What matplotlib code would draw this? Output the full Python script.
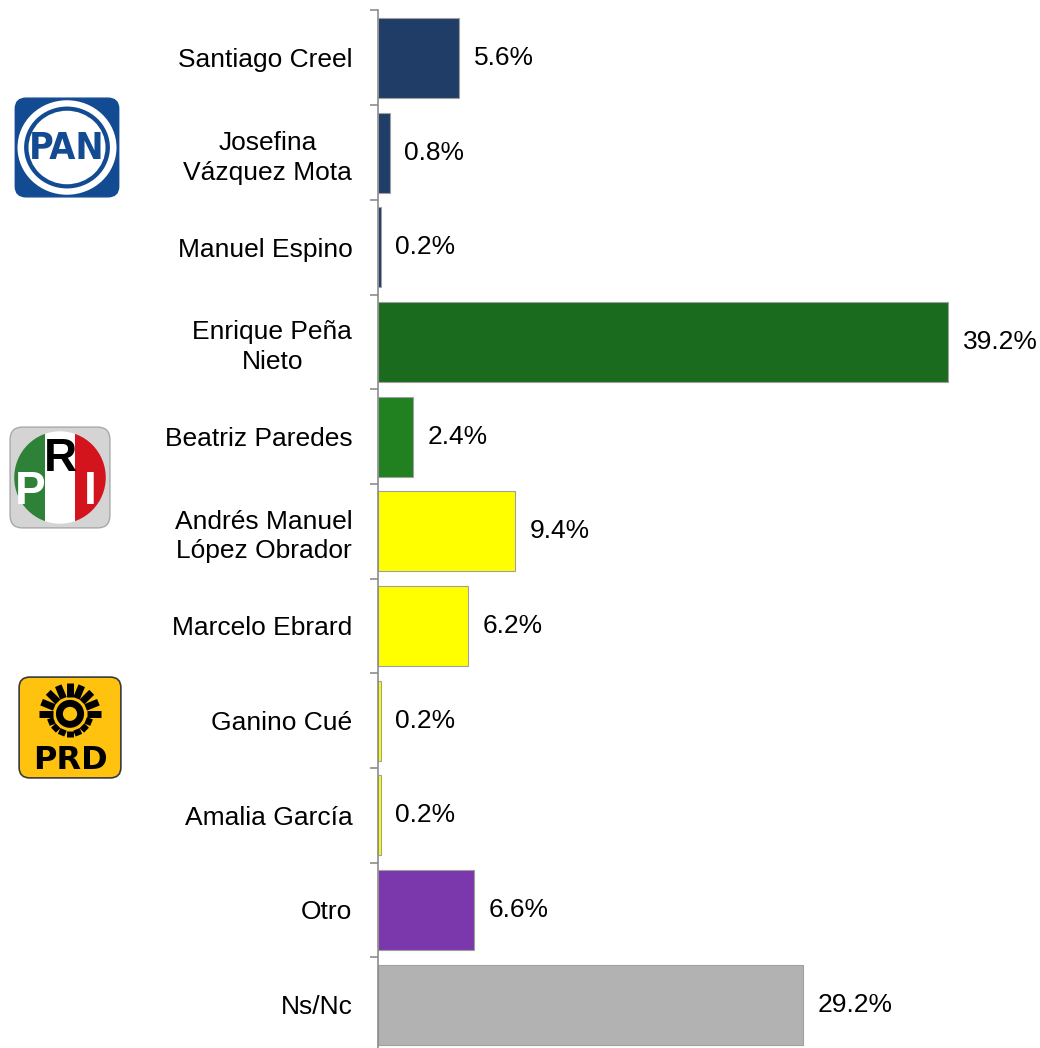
import numpy as np
import matplotlib.pyplot as plt
from matplotlib.patches import FancyBboxPatch, Circle, Rectangle

plt.rcParams['font.family'] = ['Liberation Sans', 'DejaVu Sans']

# datos de la encuesta
candidatos = ['Santiago Creel', 'Josefina\nVázquez Mota', 'Manuel Espino',
              'Enrique Peña\nNieto', 'Beatriz Paredes', 'Andrés Manuel\nLópez Obrador',
              'Marcelo Ebrard', 'Ganino Cué', 'Amalia García', 'Otro', 'Ns/Nc']
porcentajes = [5.6, 0.8, 0.2, 39.2, 2.4, 9.4, 6.2, 0.2, 0.2, 6.6, 29.2]
colores = ['#1F3D66', '#1F3D66', '#1F3D66', '#1A6B1E', '#21801F', '#FFFF00',
           '#FFFF00', '#FFFF00', '#FFFF00', '#7A38AC', '#B2B2B2']

W, H = 1040, 1048
fig = plt.figure(figsize=(W / 100, H / 100), dpi=100)
# el eje se sale un poco por abajo, como en la imagen original
ax = fig.add_axes([378 / W, 1 - 1052 / H, 1 - 378 / W, (1052 - 10.5) / H])

y = np.arange(len(candidatos))
ax.barh(y, porcentajes, height=0.845, color=colores, edgecolor='#A0A0A0', linewidth=0.8)
ax.set_ylim(len(candidatos) - 0.5, -0.5)
ax.set_xlim(0, (W - 378) / 14.54)

for i, v in enumerate(porcentajes):
    ax.annotate(f'{v:.1f}%', (v, i), xytext=(10.5, 0), textcoords='offset points',
                va='center', ha='left', fontsize=19)

ax.set_yticks(y)
ax.set_yticklabels(candidatos, fontsize=19, multialignment='center', linespacing=1.3)
ax.set_yticks(np.arange(-0.5, len(candidatos)), minor=True)
ax.tick_params(axis='y', which='major', length=0, pad=18.5)
ax.tick_params(axis='y', which='minor', length=6, color='#8C8C8C', width=1.2)
ax.set_xticks([])
for s in ['top', 'right', 'bottom']:
    ax.spines[s].set_visible(False)
ax.spines['left'].set_color('#8C8C8C')
ax.spines['left'].set_linewidth(1.2)


def caja_logo(x0, y0, x1, y1):
    a = fig.add_axes([x0 / W, 1 - y1 / H, (x1 - x0) / W, (y1 - y0) / H])
    a.set_xlim(0, 1)
    a.set_ylim(0, 1)
    a.axis('off')
    return a


# logo PAN
a = caja_logo(12, 95, 122, 200)
a.add_patch(FancyBboxPatch((0.03, 0.03), 0.94, 0.94, boxstyle='round,pad=0,rounding_size=0.1',
                           fc='#134B93', ec='#134B93'))
a.add_patch(Circle((0.5, 0.5), 0.45, fc='white', ec='none'))
a.add_patch(Circle((0.5, 0.5), 0.39, fc='#134B93', ec='none'))
a.add_patch(Circle((0.5, 0.5), 0.35, fc='white', ec='none'))
a.text(0.5, 0.49, 'PAN', ha='center', va='center', fontsize=27, fontweight='bold',
       color='#134B93', fontstretch='condensed', family='DejaVu Sans', transform=a.transAxes)

# logo PRI
a = caja_logo(8, 425, 112, 530)
a.add_patch(FancyBboxPatch((0.02, 0.02), 0.96, 0.96, boxstyle='round,pad=0,rounding_size=0.12',
                           fc='#D4D4D4', ec='#A8A8A8', lw=1))
circ = Circle((0.5, 0.5), 0.44, fc='none', ec='none')
a.add_patch(circ)
for x0, c in [(0.06, '#2E8237'), (0.355, 'white'), (0.645, '#D4141C')]:
    r = Rectangle((x0, 0.05), 0.295, 0.9, fc=c, ec='none')
    a.add_patch(r)
    r.set_clip_path(circ)
a.text(0.21, 0.36, 'P', ha='center', va='center', fontsize=33, fontweight='bold', color='white')
a.text(0.5, 0.68, 'R', ha='center', va='center', fontsize=33, fontweight='bold', color='black')
a.text(0.79, 0.36, 'I', ha='center', va='center', fontsize=33, fontweight='bold', color='white')

# logo PRD
a = caja_logo(17, 675, 123, 780)
a.add_patch(FancyBboxPatch((0.02, 0.02), 0.96, 0.96, boxstyle='round,pad=0,rounding_size=0.1',
                           fc='#FFC30F', ec='#3A3A3A', lw=1.2))
cx, cy = 0.5, 0.63
a.add_patch(Circle((cx, cy), 0.1, fc='none', ec='black', lw=5))
for ang in np.arange(0, 360, 360 / 16):
    t = np.radians(ang)
    r2 = 0.29 if np.sin(t) > -0.3 else 0.22
    a.plot([cx + 0.16 * np.cos(t), cx + r2 * np.cos(t)],
           [cy + 0.16 * np.sin(t), cy + r2 * np.sin(t)], color='black', lw=5, solid_capstyle='butt')
a.text(0.5, 0.19, 'PRD', ha='center', va='center', fontsize=23, fontweight='bold', color='black',
       family='DejaVu Sans')

fig.savefig('out.png', dpi=100)
